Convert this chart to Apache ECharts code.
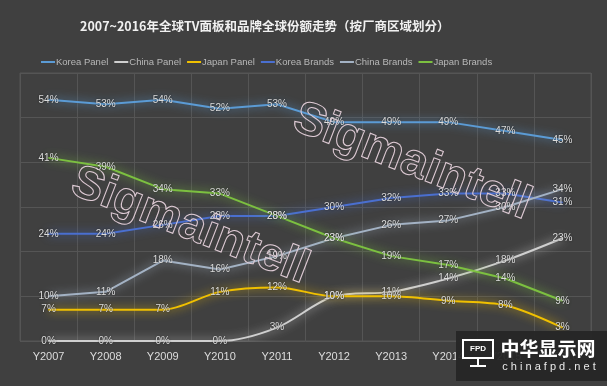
<!DOCTYPE html>
<html>
<head>
<meta charset="utf-8">
<script src="https://cdn.jsdelivr.net/npm/echarts@6/dist/echarts.min.js"></script>
<style>html,body{margin:0;padding:0;background:#404040;}#c{width:607px;height:386px;}</style>
</head>
<body>
<div id="c"></div>
<script>
const categories = ['Y2007','Y2008','Y2009','Y2010','Y2011','Y2012','Y2013','Y2014','Y2015','Y2016'];
const koreaPanel  = [54, 53, 54, 52, 53, 49, 49, 49, 47, 45];
const chinaPanel  = [0, 0, 0, 0, 3, 10, 11, 14, 18, 23];
const japanPanel  = [7, 7, 7, 11, 12, 10, 10, 9, 8, 3];
const koreaBrands = [24, 24, 26, 28, 28, 30, 32, 33, 33, 31];
const chinaBrands = [10, 11, 18, 16, 19, 23, 26, 27, 30, 34];
const japanBrands = [41, 39, 34, 33, 28, 23, 19, 17, 14, 9];
const yTicks = [0, 10, 20, 30, 40, 50, 60];

const chart = echarts.init(document.getElementById('c'));
function mk(name, data, color, smooth) {
  return {
    name: name, type: 'line', data: data, smooth: smooth,
    symbol: 'circle', symbolSize: 1, showSymbol: true,
    itemStyle: { color: color },
    lineStyle: { color: color, width: 2, shadowColor: color, shadowBlur: 10 },
    label: {
      show: true, position: 'inside', formatter: '{c}%',
      color: '#dcdcdc', fontSize: 10, fontFamily: 'Liberation Sans',
      textShadowColor: 'rgba(0,0,0,0.6)', textShadowBlur: 2
    },
    z: 3
  };
}
const lf = 'Liberation Sans';
chart.setOption({
  backgroundColor: '#404040',
  animation: false,
  title: {
    text: '2007~2016年全球TV面板和品牌全球份额走势（按厂商区域划分）',
    left: 75, top: 15,
    textStyle: { color: '#f0f0f0', fontSize: 12.5, fontWeight: 'bold', fontFamily: 'Noto Sans CJK SC' }
  },
  legend: {
    left: 36, top: 52, itemWidth: 14, itemHeight: 2, itemGap: 6, icon: 'rect',
    textStyle: { color: '#b8b8b8', fontSize: 9.5, fontFamily: lf, padding: [0, 0, 0, -4] },
    data: ['Korea Panel', 'China Panel', 'Japan Panel', 'Korea Brands', 'China Brands', 'Japan Brands']
  },
  grid: { left: 20, right: 16, top: 73, bottom: 45, show: true, borderColor: '#555', borderWidth: 1 },
  xAxis: {
    type: 'category', data: categories, boundaryGap: true,
    axisLine: { show: false }, axisTick: { show: false },
    splitLine: { show: true, lineStyle: { color: '#555', width: 1 } },
    axisLabel: { color: '#dcdcdc', fontSize: 11, fontFamily: lf, margin: 10 }
  },
  yAxis: {
    type: 'value', min: yTicks[0], max: yTicks[yTicks.length - 1], interval: 10,
    axisLabel: { show: false }, axisLine: { show: false }, axisTick: { show: false },
    splitLine: { lineStyle: { color: '#555', width: 1 } }
  },
  series: [
    mk('Korea Panel', koreaPanel, '#5b9bd5', false),
    mk('China Panel', chinaPanel, '#cfcfcf', 0.3),
    mk('Japan Panel', japanPanel, '#f0c000', 0.3),
    mk('Korea Brands', koreaBrands, '#4a6fd0', false),
    mk('China Brands', chinaBrands, '#a3b2c4', false),
    mk('Japan Brands', japanBrands, '#7cc040', false)
  ],
  graphic: [
    { type: 'text', x: 190, y: 226, rotation: -0.37, z: 10, silent: true,
      style: { text: 'Sigmaintell', fill: 'rgba(0,0,0,0)', stroke: '#e0ccd6', lineWidth: 1,
        font: 'bold 47px "Liberation Sans"', align: 'center', verticalAlign: 'middle' } },
    { type: 'text', x: 412, y: 162, rotation: -0.37, z: 10, silent: true,
      style: { text: 'Sigmaintell', fill: 'rgba(0,0,0,0)', stroke: '#e0ccd6', lineWidth: 1,
        font: 'bold 47px "Liberation Sans"', align: 'center', verticalAlign: 'middle' } },
    { type: 'rect', z: 20, silent: true, shape: { x: 456, y: 331, width: 151, height: 50 },
      style: { fill: 'rgba(38,38,38,0.95)' } },
    { type: 'rect', z: 21, silent: true, shape: { x: 463, y: 340, width: 30, height: 18 },
      style: { fill: 'none', stroke: '#ffffff', lineWidth: 2 } },
    { type: 'rect', z: 21, silent: true, shape: { x: 477, y: 358, width: 2, height: 7 },
      style: { fill: '#ffffff' } },
    { type: 'rect', z: 21, silent: true, shape: { x: 470, y: 365, width: 16, height: 2 },
      style: { fill: '#ffffff' } },
    { type: 'text', z: 21, silent: true, x: 478, y: 349,
      style: { text: 'FPD', fill: '#ffffff', font: 'bold 8px "Liberation Sans"', align: 'center', verticalAlign: 'middle' } },
    { type: 'text', z: 21, silent: true, x: 548, y: 349,
      style: { text: '中华显示网', fill: '#ffffff', font: 'bold 19px "Noto Sans CJK SC"', align: 'center', verticalAlign: 'middle' } },
    { type: 'text', z: 21, silent: true, x: 549, y: 367,
      style: { text: 'c h i n a f p d . n e t', fill: '#e8e8e8', font: '11px "Liberation Sans"', align: 'center', verticalAlign: 'middle' } }
  ]
});
</script>
</body>
</html>
